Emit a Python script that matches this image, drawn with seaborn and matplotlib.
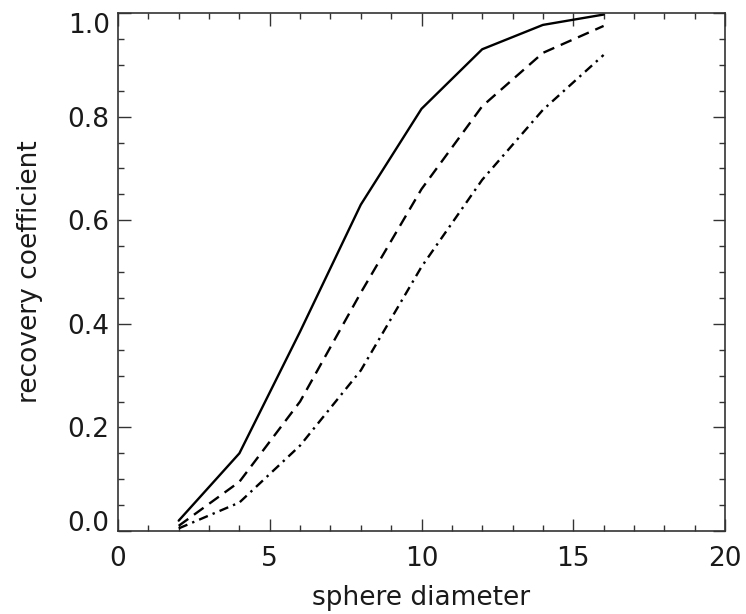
import matplotlib
matplotlib.use("Agg")
import matplotlib.pyplot as plt
import seaborn as sns
import pandas as pd

# Data
diameter = [2, 4, 6, 8, 10, 12, 14, 16]
solid = [0.02, 0.15, 0.385, 0.63, 0.815, 0.93, 0.977, 0.997]
dashed = [0.01, 0.095, 0.25, 0.46, 0.66, 0.82, 0.923, 0.975]
dashdot = [0.005, 0.055, 0.165, 0.31, 0.51, 0.678, 0.813, 0.919]
series_names = ["solid", "dashed", "dashdot"]
x_ticks = [0, 5, 10, 15, 20]
y_ticks = [0.0, 0.2, 0.4, 0.6, 0.8, 1.0]
x_label = "sphere diameter"
y_label = "recovery coefficient"

df = pd.DataFrame({
    "diameter": diameter * 3,
    "rc": solid + dashed + dashdot,
    "series": [s for s in series_names for _ in diameter],
})

sns.set_theme(style="white")
plt.rcParams["font.family"] = ["DejaVu Sans"]

fig = plt.figure(figsize=(7.46, 6.14), dpi=100)
ax = fig.add_axes([118 / 746, 1 - 531 / 614, (725 - 118) / 746, (531 - 13) / 614])

sns.lineplot(
    data=df, x="diameter", y="rc", hue="series", style="series",
    palette={"solid": "black", "dashed": "black", "dashdot": "black"},
    dashes={"solid": "", "dashed": (5, 3), "dashdot": (4, 2.2, 1, 2.2)},
    linewidth=1.7, legend=False, ax=ax, sort=False,
)

ax.set_xlim(0, 20)
ax.set_ylim(0, 1.0)
ax.set_xticks(x_ticks)
ax.set_xticklabels([str(t) for t in x_ticks])
ax.set_yticks(y_ticks)
ax.set_yticklabels([f"{t:.1f}" for t in y_ticks])
ax.set_xticks([i for i in range(0, 21)], minor=True)
ax.set_yticks([i * 0.05 for i in range(0, 21)], minor=True)

txt_color = "#1a1a1a"
fs = 19
ax.tick_params(axis="both", which="both", direction="in", top=True, right=True,
               bottom=True, left=True, color="#333333", width=1.0)
ax.tick_params(axis="both", which="major", length=9, labelsize=fs, labelcolor=txt_color)
ax.tick_params(axis="both", which="minor", length=4.5)
ax.tick_params(axis="x", which="major", pad=11)
ax.tick_params(axis="y", which="major", pad=6)

for sp in ax.spines.values():
    sp.set_color("#333333")
    sp.set_linewidth(1.2)

ylabs = ax.get_yticklabels()
ylabs[0].set_va("baseline")
ylabs[-1].set_va("top")

ax.set_xlabel(x_label, fontsize=fs, color=txt_color, labelpad=9)
ax.set_ylabel(y_label, fontsize=fs, color=txt_color, labelpad=18)
ax.grid(False)

fig.savefig("out.png", dpi=100, facecolor="white")
